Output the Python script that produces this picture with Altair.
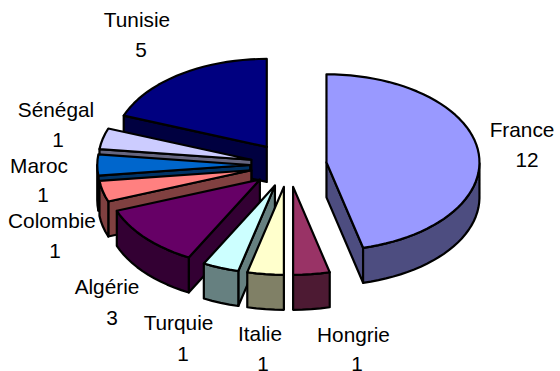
import math
import altair as alt

# Counts per country, clockwise from twelve o'clock
countries = ["France", "Hongrie", "Italie", "Turquie", "Algérie", "Colombie", "Maroc", "Sénégal", "Tunisie"]
counts = [12, 1, 1, 1, 3, 1, 1, 1, 5]
top_colors = ["#9999FF", "#993366", "#FFFFCC", "#CCFFFF", "#660066", "#FF8080", "#0066CC", "#CCCCFF", "#000080"]
side_colors = ["#4D4D80", "#4D1A33", "#808066", "#668080", "#330033", "#804040", "#003366", "#666680", "#000040"]

# Projected pie geometry, in pixels
CX, CY = 288.5, 165.0
RX, RY = 153.0, 88.0
DEPTH = 35.0
EXPLODE = 0.25

# Label layout: the country name line and the count line have their own centres
name_x = [522, 353.5, 260, 178.5, 107, 52, 39, 56, 137]
name_y = [131, 336, 335, 324, 288, 222, 167, 111, 21]
count_x = [527, 357, 263, 183, 112, 55, 43, 58, 141]
count_y = [161, 364.5, 364.5, 355, 319, 252, 196, 141, 51]


def rim(apex, deg):
    a = math.radians(deg)
    return [apex[0] + RX * math.sin(a), apex[1] - RY * math.cos(a)]


def drop(p):
    return [p[0], p[1] + DEPTH]


def polygon(points, color):
    ring = [list(p) for p in points] + [list(points[0])]
    return {
        "type": "Feature",
        "geometry": {"type": "Polygon", "coordinates": [ring]},
        "properties": {"color": color},
    }


back_to_front = [8, 7, 6, 5, 4, 3, 2, 1, 0]
total = sum(counts)
starts = [360 * sum(counts[:i]) / total for i in range(len(counts))]
faces = []
for i in back_to_front:
    a0 = starts[i]
    a1 = a0 + 360 * counts[i] / total
    mid = math.radians((a0 + a1) / 2)
    apex = [CX + EXPLODE * RX * math.sin(mid), CY - EXPLODE * RY * math.cos(mid)]
    steps = max(2, int((a1 - a0) / 3))
    angles = [a0 + (a1 - a0) * k / steps for k in range(steps + 1)]
    arc = [rim(apex, d) for d in angles]

    # Cut faces that turn towards the viewer
    if math.sin(math.radians(a0)) < -1e-6:
        faces.append(polygon([apex, arc[0], drop(arc[0]), drop(apex)], side_colors[i]))
    if math.sin(math.radians(a1)) > 1e-6:
        faces.append(polygon([apex, arc[-1], drop(arc[-1]), drop(apex)], side_colors[i]))

    # Outer wall: only the front half of the rim shows
    front = [d for d in angles if 90 <= d <= 270]
    if len(front) >= 2:
        upper = [rim(apex, d) for d in front]
        lower = [drop(p) for p in reversed(upper)]
        faces.append(polygon(upper + lower, side_colors[i]))

    faces.append(polygon([apex] + arc, top_colors[i]))

pie = (
    alt.Chart(alt.Data(values=faces))
    .mark_geoshape(stroke="#000000", strokeWidth=2.2, strokeJoin="round")
    .encode(fill=alt.Fill("properties.color:N", scale=None))
    .project(type="identity", scale=1, translate=[0, 0])
)

rows = []
for i, name in enumerate(countries):
    rows.append({"text": name, "x": name_x[i], "y": name_y[i]})
    rows.append({"text": str(counts[i]), "x": count_x[i], "y": count_y[i]})

labels = (
    alt.Chart(alt.Data(values=rows))
    .mark_text(font="Liberation Sans", fontSize=20.8, color="#000000", align="center", baseline="middle")
    .encode(
        x=alt.X("x:Q", scale=None, axis=None),
        y=alt.Y("y:Q", scale=None, axis=None),
        text="text:N",
    )
)

chart = (
    alt.layer(pie, labels)
    .properties(width=560, height=371, padding=0, autosize=alt.AutoSizeParams(type="none"))
    .configure_view(stroke=None)
)
chart.save("out.html", embed_options={"renderer": "svg", "actions": False})
